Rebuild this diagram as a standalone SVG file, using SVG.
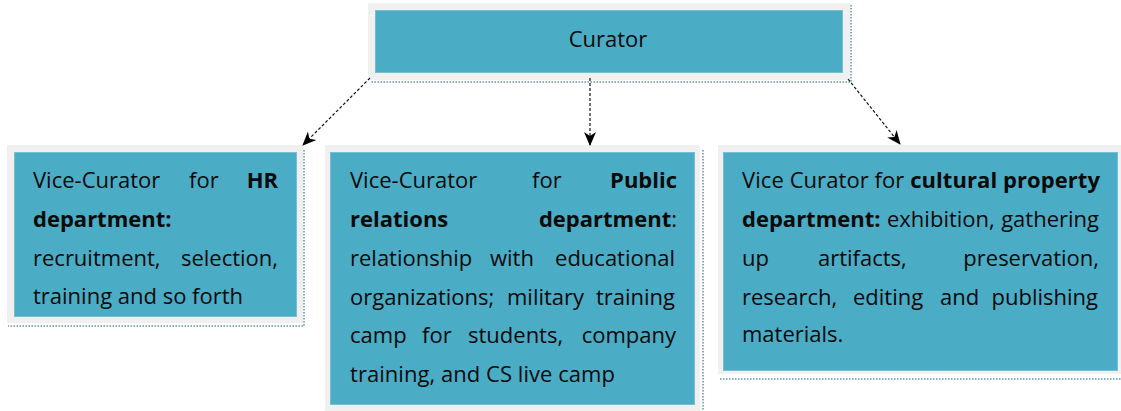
<svg xmlns="http://www.w3.org/2000/svg" width="1121" height="411" viewBox="0 0 1121 411">
  <style>
    .frame { fill: #f0f0f0; }
    .fill { fill: #4bacc6; stroke: #74bfd3; stroke-width: 1; }
    .shadow { fill: none; stroke: #8aaebb; stroke-width: 2; stroke-dasharray: 1.5 1.5; }
    .t { font-family: "Open Sans", "Noto Sans", sans-serif; font-size: 22px; fill: #0a0a0a; }
    .b { font-weight: bold; }
    .e { text-anchor: end; }
    .link { fill: none; stroke: #111; stroke-width: 1.2; stroke-dasharray: 3 2; }
  </style>
  <defs>
    <marker id="arrow" markerUnits="userSpaceOnUse" markerWidth="14" markerHeight="14" viewBox="0 0 14 14" refX="13" refY="7" orient="auto">
      <path d="M0,1 L14,7 L0,13 L4,7 Z" fill="#000"/>
    </marker>
  </defs>

  <rect width="1121" height="411" fill="#ffffff"/>

  <!-- top node -->
  <g id="curator">
    <rect class="frame" x="368" y="3" width="482" height="77"/>
    <rect class="fill" x="375.5" y="10.5" width="467" height="62"/>
    <polyline class="shadow" points="851,5 851,82 370,82"/>
    <text class="t" x="608" y="47" text-anchor="middle">Curator</text>
  </g>

  <!-- HR department -->
  <g id="hr">
    <rect class="frame" x="7" y="145" width="296" height="178"/>
    <rect class="fill" x="14.5" y="152.5" width="282" height="164"/>
    <polyline class="shadow" points="304,150 304,326 8,326"/>
    <text class="t" y="188"><tspan x="33">Vice-Curator</tspan><tspan x="189">for</tspan></text>
    <text class="t b e" x="278" y="188">HR</text>
    <text class="t b" x="33" y="227">department:</text>
    <text class="t" x="33" y="266">recruitment,</text>
    <text class="t e" x="278" y="266">selection,</text>
    <text class="t" x="33" y="304" textLength="210" lengthAdjust="spacing">training and so forth</text>
  </g>

  <!-- public relations department -->
  <g id="public-relations">
    <rect class="frame" x="325" y="145" width="375" height="266"/>
    <rect class="fill" x="330.5" y="152.5" width="364" height="252"/>
    <polyline class="shadow" points="703,150 703,411"/>
    <text class="t" y="188"><tspan x="350">Vice-Curator</tspan><tspan x="532">for</tspan></text>
    <text class="t b e" x="677" y="188">Public</text>
    <text class="t b" x="350" y="227">relations</text>
    <text class="t e" x="677" y="227"><tspan class="b">department</tspan>:</text>
    <text class="t" y="266"><tspan x="350">relationship</tspan><tspan x="490">with</tspan></text>
    <text class="t e" x="675" y="266">educational</text>
    <text class="t" y="305"><tspan x="350">organizations;</tspan><tspan x="507">military</tspan></text>
    <text class="t e" x="675" y="305">training</text>
    <text class="t" y="343"><tspan x="350">camp</tspan><tspan x="422">for</tspan><tspan x="468">students,</tspan></text>
    <text class="t e" x="676" y="343">company</text>
    <text class="t" x="350" y="382" textLength="265" lengthAdjust="spacing">training, and CS live camp</text>
  </g>

  <!-- cultural property department -->
  <g id="cultural-property">
    <rect class="frame" x="718" y="145" width="403" height="229"/>
    <rect class="fill" x="723.5" y="152.5" width="394" height="218"/>
    <line class="shadow" x1="720" y1="379" x2="1121" y2="379"/>
    <text class="t" x="742" y="188" textLength="358" lengthAdjust="spacing">Vice Curator for <tspan class="b">cultural property</tspan></text>
    <text class="t" y="227"><tspan x="742" class="b">department:</tspan><tspan x="887">exhibition,</tspan></text>
    <text class="t e" x="1099" y="227">gathering</text>
    <text class="t" y="266"><tspan x="742">up</tspan><tspan x="818">artifacts,</tspan></text>
    <text class="t e" x="1099" y="266">preservation,</text>
    <text class="t" y="305"><tspan x="742">research,</tspan><tspan x="853">editing</tspan><tspan x="940">and</tspan></text>
    <text class="t e" x="1098" y="305">publishing</text>
    <text class="t" x="742" y="342">materials.</text>
  </g>

  <!-- connectors -->
  <g id="connectors">
    <line class="link" x1="370" y1="78" x2="303" y2="145" marker-end="url(#arrow)"/>
    <line class="link" x1="590" y1="78" x2="590" y2="145" marker-end="url(#arrow)"/>
    <line class="link" x1="848" y1="79" x2="900" y2="144" marker-end="url(#arrow)"/>
  </g>
</svg>
